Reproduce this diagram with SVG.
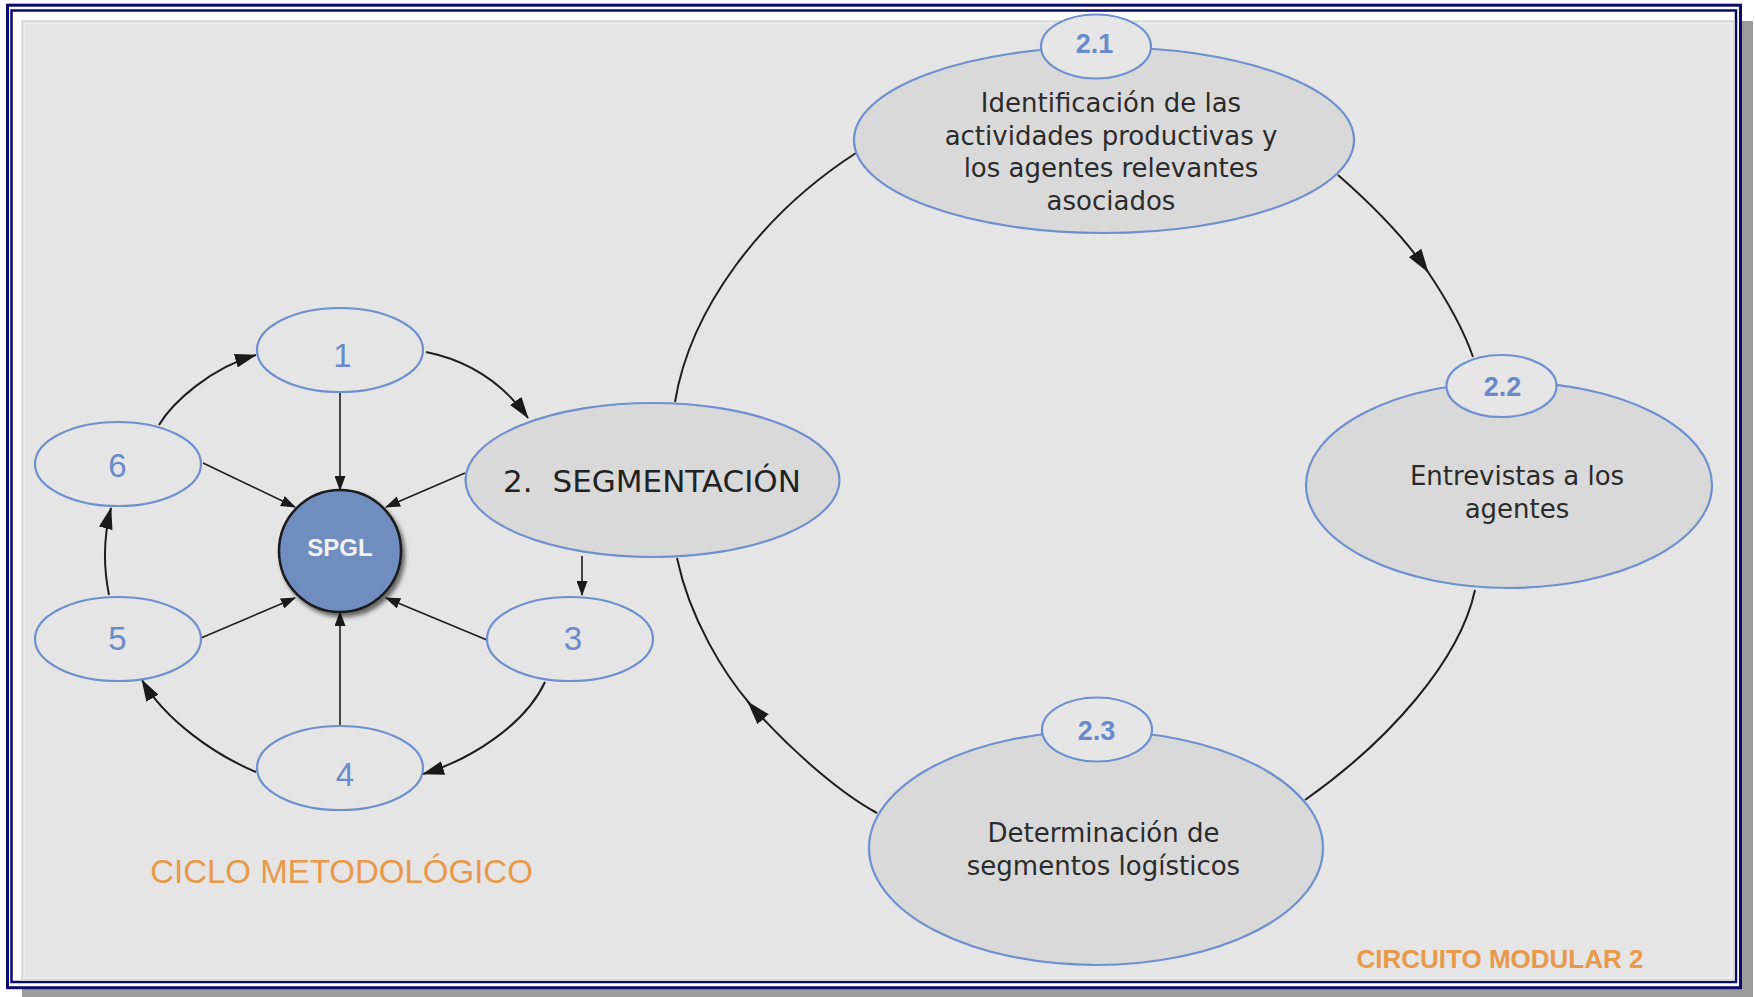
<svg xmlns="http://www.w3.org/2000/svg" width="1755" height="997" viewBox="0 0 1755 997">
<style>
.small{fill:#e5e5e5;stroke:#6f8fce;stroke-width:2.2}
.big{fill:#d9d9d9;stroke:#6f8fce;stroke-width:2.2}
.tag{fill:#e6e6e6;stroke:#6f8fce;stroke-width:2.2}
.num{font-family:"Liberation Sans",Arial,sans-serif;font-size:33px;fill:#6a8acb;text-anchor:middle}
.tagt{font-family:"Liberation Sans",Arial,sans-serif;font-size:27px;font-weight:bold;fill:#6a8acb;text-anchor:middle}
.body{font-family:"DejaVu Sans",Verdana,sans-serif;font-size:26px;fill:#2b2b2b;text-anchor:middle}
.ln{fill:none;stroke:#1e1e1e;stroke-width:2}
.st{fill:none;stroke:#1e1e1e;stroke-width:1.6}
.title{font-family:"Liberation Sans",Arial,sans-serif;fill:#e8994a;text-anchor:middle}
</style>
<defs>
<marker id="ah" viewBox="0 0 22 14" refX="21" refY="7" markerWidth="22" markerHeight="14" markerUnits="userSpaceOnUse" orient="auto"><path d="M0,0 L22,7 L0,14 Z" fill="#1a1a1a"/></marker>
<marker id="ahs" viewBox="0 0 15 11" refX="14" refY="5.5" markerWidth="15" markerHeight="11" markerUnits="userSpaceOnUse" orient="auto"><path d="M0,0 L15,5.5 L0,11 Z" fill="#1a1a1a"/></marker>
<marker id="ahb" viewBox="0 0 24 15" refX="23" refY="7.5" markerWidth="24" markerHeight="15" markerUnits="userSpaceOnUse" orient="auto"><path d="M0,0 L24,7.5 L0,15 Z" fill="#1a1a1a"/></marker>
<filter id="sh" x="-20%" y="-20%" width="150%" height="150%"><feDropShadow dx="3" dy="4" stdDeviation="2" flood-color="#000" flood-opacity="0.55"/></filter>
</defs>

<g id="frame">
<rect x="0" y="0" width="1755" height="997" fill="#ffffff"/>
<rect x="1742" y="21" width="11" height="976" fill="#9c9c9c"/>
<rect x="22" y="989" width="1731" height="8" fill="#9c9c9c"/>
<rect x="7.5" y="5.2" width="1733" height="982.5" fill="#ffffff" stroke="#0c0c6c" stroke-width="3"/>
<rect x="11.5" y="10.5" width="1724.5" height="971.5" fill="#ffffff" stroke="#0c0c6c" stroke-width="2.5"/>
<rect x="22" y="21" width="1712" height="959" fill="#e5e5e5" stroke="#d6d6d6" stroke-width="1.5"/>
<rect x="24.5" y="23.5" width="1707" height="954" fill="none" stroke="#f0f0f0" stroke-width="1"/>
</g>

<g id="connectors">
<path class="ln" d="M426,352 Q490,365 528,418" marker-end="url(#ah)"/>
<path class="ln" d="M159,425 C172,403 210,368 256,355" marker-end="url(#ah)"/>
<path class="ln" d="M109,595 Q100,550 111,508" marker-end="url(#ah)"/>
<path class="ln" d="M256,772 C215,755 165,720 142,680" marker-end="url(#ah)"/>
<path class="ln" d="M545,682 C525,725 470,760 423,774" marker-end="url(#ah)"/>
<path class="st" d="M582,556 L582,595" marker-end="url(#ahs)"/>
<path class="st" d="M340,392 L340,490" marker-end="url(#ahs)"/>
<path class="st" d="M203,463 L295,507" marker-end="url(#ahs)"/>
<path class="st" d="M465,473 L386,507" marker-end="url(#ahs)"/>
<path class="st" d="M201,638 L295,598" marker-end="url(#ahs)"/>
<path class="st" d="M487,640 L386,598" marker-end="url(#ahs)"/>
<path class="st" d="M340,726 L340,612" marker-end="url(#ahs)"/>
<path class="ln" d="M675,402 C690,310 760,215 856,153"/>
<path class="ln" d="M1338,175 C1370,203 1405,238 1428,272" marker-end="url(#ahb)"/>
<path class="ln" d="M1426,269 C1445,297 1462,325 1473,357"/>
<path class="ln" d="M1475,590 C1460,660 1390,740 1305,800"/>
<path class="ln" d="M877,813 C840,793 790,750 748,702" marker-end="url(#ahb)"/>
<path class="ln" d="M750,704 C725,675 690,620 677,558"/>
</g>

<g id="node-1"><ellipse class="small" cx="340" cy="350" rx="83" ry="42"/><text class="num" x="342.5" y="367">1</text></g>
<g id="node-6"><ellipse class="small" cx="118" cy="464" rx="83" ry="42"/><text class="num" x="117.5" y="477">6</text></g>
<g id="node-5"><ellipse class="small" cx="118" cy="639" rx="83" ry="42"/><text class="num" x="117.5" y="650">5</text></g>
<g id="node-4"><ellipse class="small" cx="340" cy="768" rx="83" ry="42"/><text class="num" x="345" y="786">4</text></g>
<g id="node-3"><ellipse class="small" cx="570" cy="639" rx="83" ry="42"/><text class="num" x="573" y="650">3</text></g>
<g id="node-spgl"><circle cx="340" cy="551" r="61" fill="#6f8dc0" stroke="#1a1a1a" stroke-width="2.5" filter="url(#sh)"/><text x="340" y="556" font-family="'Liberation Sans',Arial,sans-serif" font-size="24" font-weight="bold" fill="#f2f2f2" text-anchor="middle">SPGL</text></g>
<g id="node-2"><ellipse class="big" cx="652.5" cy="480" rx="187" ry="77"/><text x="652" y="492" font-family="'DejaVu Sans',Verdana,sans-serif" font-size="31" word-spacing="10" fill="#222" text-anchor="middle">2. SEGMENTACIÓN</text></g>

<g id="node-2-1">
<ellipse class="big" cx="1104" cy="140" rx="250" ry="93"/>
<ellipse class="tag" cx="1096" cy="46.5" rx="55" ry="32"/>
<text class="tagt" x="1094.5" y="53">2.1</text>
<text class="body" x="1111" y="111.5">Identificación de las</text>
<text class="body" x="1111" y="144.5">actividades productivas y</text>
<text class="body" x="1111" y="177">los agentes relevantes</text>
<text class="body" x="1111" y="210">asociados</text>
</g>
<g id="node-2-2">
<ellipse class="big" cx="1509" cy="485" rx="203" ry="103"/>
<ellipse class="tag" cx="1501.5" cy="386" rx="55" ry="31"/>
<text class="tagt" x="1502.5" y="396">2.2</text>
<text class="body" x="1517" y="485">Entrevistas a los</text>
<text class="body" x="1517" y="518">agentes</text>
</g>
<g id="node-2-3">
<ellipse class="big" cx="1096" cy="848" rx="227" ry="117"/>
<ellipse class="tag" cx="1097" cy="729.5" rx="55" ry="32"/>
<text class="tagt" x="1096.5" y="740">2.3</text>
<text class="body" x="1103.5" y="842">Determinación de</text>
<text class="body" x="1103.5" y="875">segmentos logísticos</text>
</g>

<g id="titles">
<text class="title" x="341.5" y="883" font-size="33">CICLO METODOLÓGICO</text>
<text class="title" x="1500" y="968" font-size="26" font-weight="bold">CIRCUITO MODULAR 2</text>
</g>
</svg>
